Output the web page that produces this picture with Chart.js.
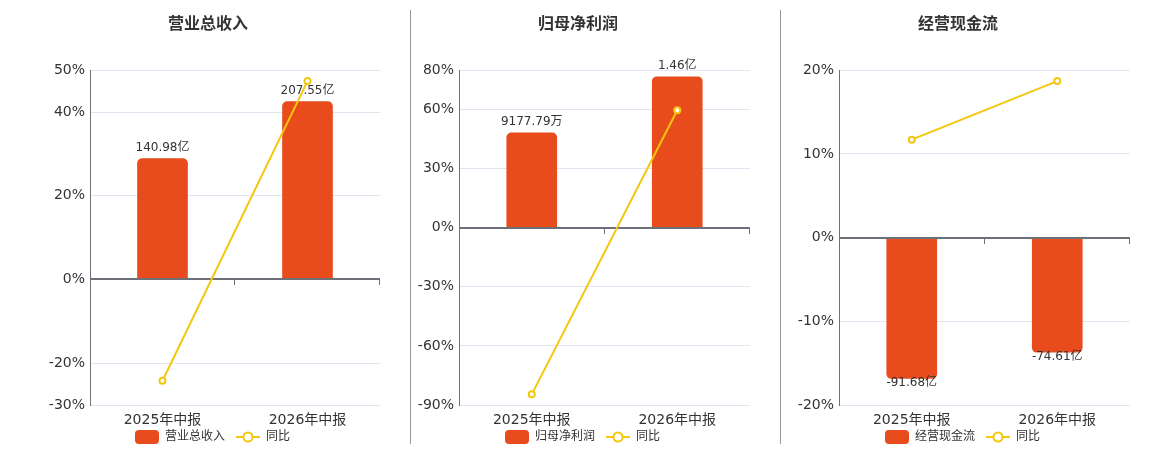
<!DOCTYPE html>
<html>
<head>
<meta charset="utf-8">
<script src="https://cdn.jsdelivr.net/npm/chart.js@4.4.1/dist/chart.umd.min.js"></script>
<style>
  html, body { margin: 0; padding: 0; background: #fff; overflow: hidden; }
  body { width: 1160px; height: 450px; position: relative; }
  .panel { position: absolute; top: 2px; height: 451px; }
  .sep { position: absolute; top: 10px; height: 434px; width: 1px; background: #999; }
</style>
</head>
<body>
<div class="panel" style="left:0;width:416px"><canvas id="c1"></canvas></div>
<div class="panel" style="left:400px;width:356px"><canvas id="c2"></canvas></div>
<div class="panel" style="left:780px;width:356px"><canvas id="c3"></canvas></div>
<div class="sep" style="left:410px"></div>
<div class="sep" style="left:780px"></div>
<script>
// ---------- DATA ----------
const categories = ['2025年中报', '2026年中报'];
const titles = ['营业总收入', '归母净利润', '经营现金流'];
const seriesNames = ['营业总收入', '归母净利润', '经营现金流'];
const yoyName = '同比';

const revenueValues = [140.98, 207.55];          // 亿
const revenueLabels = ['140.98亿', '207.55亿'];
const revenueYoY = [-24.2, 47.4];                 // %
const revenueTicks = [-30, -20, 0, 20, 40, 50];

const profitValues = [0.917779, 1.46];            // 亿
const profitLabels = ['9177.79万', '1.46亿'];
const profitYoY = [-84.6, 59.7];
const profitTicks = [-90, -60, -30, 0, 30, 60, 80];

const cashValues = [-91.68, -74.61];              // 亿
const cashLabels = ['-91.68亿', '-74.61亿'];
const cashYoY = [11.7, 18.7];
const cashTicks = [-20, -10, 0, 10, 20];

// ---------- STYLE ----------
const BAR_COLOR = '#E84B1C';
const LINE_COLOR = '#F4C70E';
const TEXT_COLOR = '#333';
const AXIS_COLOR = '#6E7079';
const GRID_COLOR = '#E0E6F1';
const LEGEND_SLOT = 33;
Chart.defaults.font.family = '"DejaVu Sans", "Noto Sans CJK SC", sans-serif';
Chart.defaults.color = TEXT_COLOR;

function makeBarIcon() {
  const c = document.createElement('canvas');
  c.width = LEGEND_SLOT; c.height = 14;
  const x = c.getContext('2d');
  x.fillStyle = BAR_COLOR;
  x.beginPath();
  x.roundRect(LEGEND_SLOT - 24, 0, 24, 14, 4);
  x.fill();
  return c;
}
function makeLineIcon() {
  const c = document.createElement('canvas');
  c.width = LEGEND_SLOT; c.height = 14;
  const x = c.getContext('2d');
  const s = LEGEND_SLOT - 24;
  x.strokeStyle = LINE_COLOR; x.lineWidth = 2;
  x.beginPath(); x.moveTo(s, 7); x.lineTo(s + 24, 7); x.stroke();
  x.fillStyle = '#fff';
  x.beginPath(); x.arc(s + 12, 7, 4.5, 0, Math.PI * 2); x.fill(); x.stroke();
  return c;
}
const barIcon = makeBarIcon();
const lineIcon = makeLineIcon();

const decorPlugin = {
  id: 'decor',
  afterDatasetDraw(chart, args) {
    if (args.index !== 0) return;
    const { ctx, chartArea } = chart;
    const y0 = Math.round(chart.scales.y.getPixelForValue(0));
    ctx.save();
    ctx.strokeStyle = AXIS_COLOR;
    ctx.lineWidth = 2;
    ctx.beginPath();
    ctx.moveTo(chartArea.left, y0);
    ctx.lineTo(chartArea.right, y0);
    ctx.stroke();
    ctx.lineWidth = 1;
    const n = chart.data.labels.length;
    for (let i = 1; i <= n; i++) {
      const x = Math.round(chartArea.left + (chartArea.right - chartArea.left) * i / n) - 0.5;
      ctx.beginPath();
      ctx.moveTo(x, y0);
      ctx.lineTo(x, y0 + 6);
      ctx.stroke();
    }
    const ds = chart.data.datasets[0];
    const meta = chart.getDatasetMeta(0);
    ctx.fillStyle = TEXT_COLOR;
    ctx.font = '12px "DejaVu Sans", "Noto Sans CJK SC", sans-serif';
    ctx.textAlign = 'center';
    ctx.textBaseline = 'middle';
    meta.data.forEach((bar, i) => {
      const v = ds.data[i];
      const ty = v >= 0 ? bar.y - 11 : bar.y + 4.5;
      ctx.fillText(ds.valueLabels[i], bar.x, ty);
    });
    ctx.restore();
  }
};

function buildChart(id, cfg) {
  return new Chart(document.getElementById(id), {
    type: 'bar',
    data: {
      labels: categories,
      datasets: [
        {
          type: 'bar',
          label: cfg.name,
          data: cfg.values,
          valueLabels: cfg.labels,
          yAxisID: 'y2',
          backgroundColor: BAR_COLOR,
          borderRadius: 5,
          borderSkipped: 'start',
          barThickness: 50,
          order: 1
        },
        {
          type: 'line',
          label: yoyName,
          data: cfg.yoy,
          yAxisID: 'y',
          borderColor: LINE_COLOR,
          borderWidth: 2,
          pointRadius: 3,
          pointBorderWidth: 2,
          pointBackgroundColor: '#fff',
          pointBorderColor: LINE_COLOR,
          tension: 0,
          order: 0
        }
      ]
    },
    options: {
      responsive: true,
      maintainAspectRatio: false,
      animation: false,
      layout: { padding: 0 },
      plugins: {
        title: {
          display: true,
          text: cfg.title,
          color: TEXT_COLOR,
          font: { size: 16, weight: 'bold' },
          padding: { top: 13, bottom: 36 }
        },
        legend: {
          position: 'bottom',
          labels: {
            usePointStyle: true,
            pointStyleWidth: LEGEND_SLOT,
            padding: 2,
            color: TEXT_COLOR,
            font: { size: 12 },
            generateLabels(chart) {
              const items = Chart.defaults.plugins.legend.labels.generateLabels(chart);
              items.sort((a, b) => a.datasetIndex - b.datasetIndex);
              items.forEach(it => {
                it.pointStyle = it.datasetIndex === 0 ? barIcon : lineIcon;
              });
              return items;
            }
          },
          onClick: null
        },
        tooltip: { enabled: false }
      },
      scales: {
        x: {
          offset: true,
          grid: { display: false, drawTicks: false },
          border: { display: false },
          ticks: { color: TEXT_COLOR, font: { size: 14 }, padding: 7 },
          afterFit(s) { s.height = 24; }
        },
        y: {
          position: 'left',
          min: cfg.ticks[0],
          max: cfg.ticks[cfg.ticks.length - 1],
          afterBuildTicks(s) { s.ticks = cfg.ticks.map(v => ({ value: v })); },
          afterFit(s) { s.width = cfg.leftW; },
          grid: {
            drawTicks: false,
            color: c => (c.tick && c.tick.value === 0) ? 'rgba(0,0,0,0)' : GRID_COLOR,
            lineWidth: 1
          },
          border: { display: true, color: AXIS_COLOR, width: 1 },
          ticks: {
            color: TEXT_COLOR,
            font: { size: 14 },
            padding: 5,
            callback: v => v + '%'
          }
        },
        y2: {
          position: 'right',
          min: cfg.barMin,
          max: cfg.barMax,
          grid: { display: false },
          border: { display: false },
          ticks: { display: false },
          afterFit(s) { s.width = cfg.rightW; }
        }
      }
    },
    plugins: [decorPlugin]
  });
}

const charts = [
  buildChart('c1', {
    title: titles[0], name: seriesNames[0],
    values: revenueValues, labels: revenueLabels, yoy: revenueYoY, ticks: revenueTicks,
    barMin: -146.5, barMax: 244.1, leftW: 90, rightW: 36
  }),
  buildChart('c2', {
    title: titles[1], name: seriesNames[1],
    values: profitValues, labels: profitLabels, yoy: profitYoY, ticks: profitTicks,
    barMin: -1.713, barMax: 1.523, leftW: 59, rightW: 6
  }),
  buildChart('c3', {
    title: titles[2], name: seriesNames[2],
    values: cashValues, labels: cashLabels, yoy: cashYoY, ticks: cashTicks,
    barMin: -108.9, barMax: 108.9, leftW: 59, rightW: 6
  })
];
</script>
</body>
</html>
